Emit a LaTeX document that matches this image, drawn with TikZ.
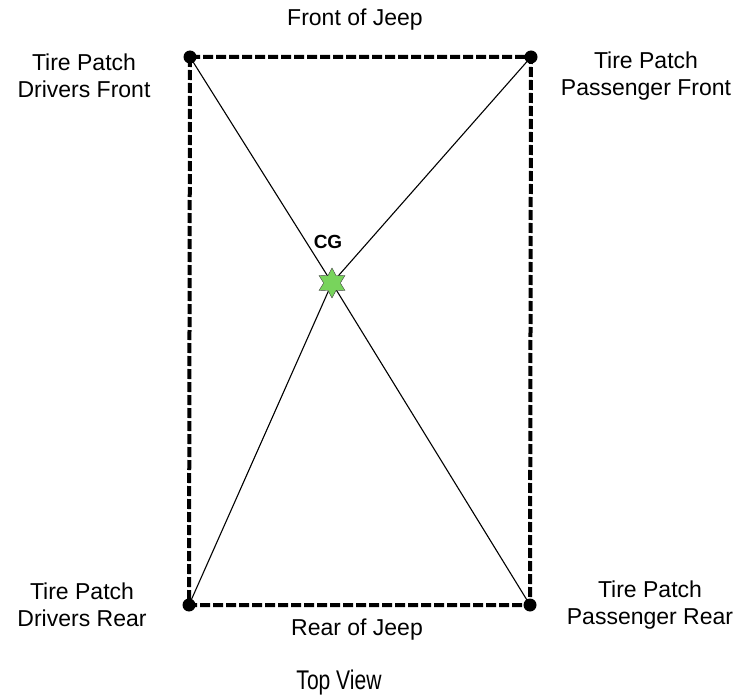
\documentclass[tikz,border=0pt]{standalone}
\usepackage{fontspec}
\setmainfont{Liberation Sans}
\usetikzlibrary{shapes.geometric}
\definecolor{cggreen}{RGB}{120,212,92}

\begin{document}
\begin{tikzpicture}[x=1pt,y=-1pt,
  lbl/.style={align=center,font=\fontsize{23}{27}\selectfont,inner sep=0pt},
  patch/.style={circle,fill=black,inner sep=0pt,minimum size=13pt},
  body/.style={line width=4pt,dash pattern=on 10pt off 3pt},
  axle/.style={line width=1.1pt}]
\useasboundingbox (0,0) rectangle (740,698);
% tire patches on the frame
\node[patch] (fl) at (190,57) {};
\node[patch] (fr) at (531,57) {};
\node[patch] (rl) at (189,605) {};
\node[patch] (rr) at (530,605) {};
\coordinate (cgpt) at (332,283);
\draw[body] (fl.center) -- (fr.center) -- (rr.center) -- (rl.center) -- cycle;
\draw[axle] (fl.center) -- (cgpt) -- (rr.center);
\draw[axle] (fr.center) -- (cgpt) -- (rl.center);
% centre of gravity
\node[star,star points=6,star point ratio=1.8,draw=black!75,fill=cggreen,
  inner sep=0pt,minimum size=30pt] (cg) at (cgpt) {};
\node[font=\bfseries\fontsize{19}{22}\selectfont,inner sep=0pt] (cglbl) at (328,242) {CG};
% labels
\node[lbl] (front) at (355,20) {Front of Jeep};
\node[lbl] (rear) at (357,630) {Rear of Jeep};
\node[lbl] (dfront) at (84,76) {Tire Patch\\Drivers Front};
\node[lbl] (pfront) at (646,76) {Tire Patch\\Passenger Front};
\node[lbl] (drear) at (82,605) {Tire Patch\\Drivers Rear};
\node[lbl] (prear) at (650,605) {Tire Patch\\Passenger Rear};
\node[inner sep=0pt] (view) at (339,683) {\fontsize{27}{30}\selectfont\scalebox{0.78}[1]{Top View}};
\end{tikzpicture}
\end{document}
